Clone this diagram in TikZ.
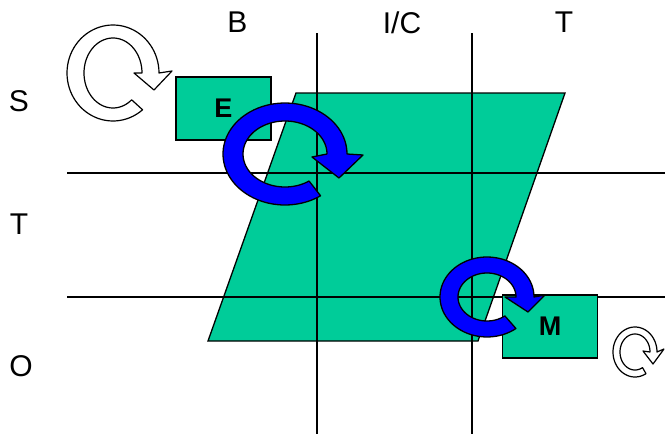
\documentclass[tikz,border=0pt]{standalone}
\usepackage{fontspec}
\setmainfont{Liberation Sans}
\definecolor{sea}{HTML}{00CC99}
\definecolor{arrowblue}{HTML}{0000FF}
\begin{document}
\begin{tikzpicture}[x=1pt,y=1pt,yscale=-1,
  grid/.style={line width=1.3pt,black},
  boxshape/.style={draw=black,fill=sea,line width=1.3pt,minimum width=95pt,minimum height=63pt,inner sep=0pt,font=\fontsize{27}{32}\selectfont\bfseries},
  lab/.style={font=\fontsize{30}{36}\selectfont,inner sep=0pt},
  bluecyc/.style={draw=black,fill=arrowblue,line width=1.3pt,line join=round},
  whitecyc/.style={draw=black,fill=white,line width=1.2pt,line join=round}]
\useasboundingbox (0,0) rectangle (665,434);
% parallelogram
\fill[sea,draw=black,line width=1.3pt] (296,93) -- (565,93) -- (478,341) -- (208,341) -- cycle;
% grid lines
\coordinate (v1t) at (317,33); \coordinate (v1b) at (317,434);
\coordinate (v2t) at (472,33); \coordinate (v2b) at (472,434);
\coordinate (h1l) at (67,173); \coordinate (h1r) at (665,173);
\coordinate (h2l) at (67,297); \coordinate (h2r) at (665,297);
\draw[grid] (v1t) -- (v1b);
\draw[grid] (v2t) -- (v2b);
\draw[grid] (h1l) -- (h1r);
\draw[grid] (h2l) -- (h2r);
% boxes
\node[boxshape] (E) at (223.5,108.5) {E};
\node[boxshape] (M) at (550,326.5) {M};
% labels
\node[lab] (B) at (237.5,22.5) {B};
\node[lab] (IC) at (402,22.5) {I/C};
\node[lab] (Tt) at (564,22.5) {T};
\node[lab] (S) at (19,101) {S};
\node[lab] (Tl) at (19,224) {T};
\node[lab] (O) at (21,366) {O};
% white cycle arrows
\filldraw[whitecyc] plot[domain=50:360,samples=70] ({113+46*cos(\x)},{73+48*sin(\x)})
  -- (172,71) -- (154,90) -- (134,73)
  -- plot[domain=360:50,samples=70] ({113+29*cos(\x)},{73+35*sin(\x)}) -- cycle;
\filldraw[whitecyc] plot[domain=60:360,samples=60] ({635+22*cos(\x)},{352+25*sin(\x)})
  -- (664,349) -- (653,364) -- (643,351)
  -- plot[domain=360:60,samples=60] ({635+15*cos(\x)},{352+18*sin(\x)}) -- cycle;
% blue cycle arrows
\filldraw[bluecyc] plot[domain=55:360,samples=80] ({285+62*cos(\x)},{154+51*sin(\x)})
  -- (363,155) -- (339,178) -- (312,157)
  -- plot[domain=360:55,samples=80] ({285+42*cos(\x)},{154+33*sin(\x)}) -- cycle;
\filldraw[bluecyc] plot[domain=52:360,samples=70] ({487+47*cos(\x)},{297+40*sin(\x)})
  -- (545,295) -- (528,312) -- (505,297)
  -- plot[domain=360:52,samples=70] ({487+29*cos(\x)},{297+24*sin(\x)}) -- cycle;
\end{tikzpicture}
\end{document}
